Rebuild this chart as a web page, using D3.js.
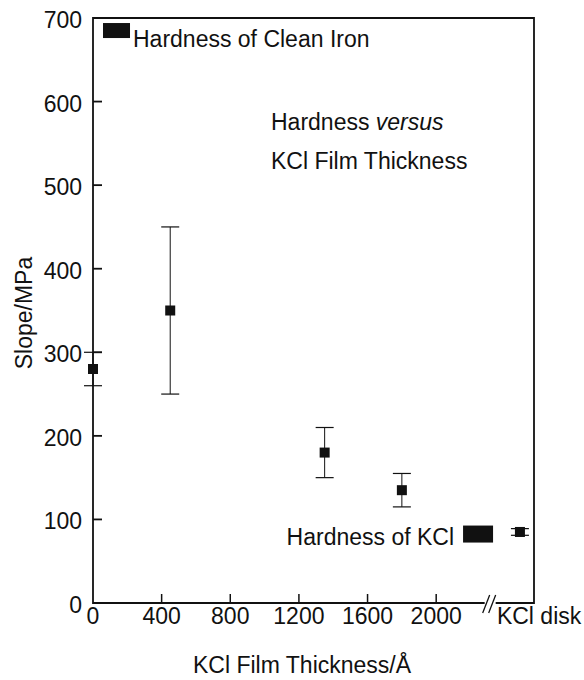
<!DOCTYPE html>
<html>
<head>
<meta charset="utf-8">
<script src="https://cdn.jsdelivr.net/npm/d3@7"></script>
<style>
  html, body { margin: 0; padding: 0; background: #fff; }
  svg text { font-family: "Liberation Sans", Arial, Helvetica, sans-serif; fill: #111; }
</style>
</head>
<body>
<svg id="chart" width="584" height="680"></svg>
<script>
// Film measurements: KCl film thickness (Å) and slope (MPa) with error range
const thickness = [0, 450, 1350, 1800];
const slope     = [280, 350, 180, 135];
const slopeLow  = [260, 250, 150, 115];
const slopeHigh = [300, 450, 210, 155];

// Bulk KCl disk measurement (plotted past the axis break)
const diskSlope = 85, diskLow = 81, diskHigh = 89;
const diskPos = 2488;

// Reference hardness levels (MPa) and their marker positions on the thickness axis
const ironHardness = 685, ironPos = 137;
const kclHardness = 82.5, kclPos = 2244;

const xTicks = [0, 400, 800, 1200, 1600, 2000];
const yTicks = [0, 100, 200, 300, 400, 500, 600, 700];

const plotLeft = 93, plotRight = 534, plotTop = 18, plotBottom = 603;
const x = d3.scaleLinear().domain([0, 2570]).range([plotLeft, plotRight]);
const y = d3.scaleLinear().domain([0, 700]).range([plotBottom, plotTop]);

const svg = d3.select("#chart");
const ink = "#111";
const fs = 23;

// Frame: left, top, right, and a bottom line broken by the // marks
const breakX = x(2300);
svg.append("path")
  .attr("d", `M${breakX - 3},${plotBottom} H${plotLeft} V${plotTop} H${plotRight} V${plotBottom} H${breakX + 8}`)
  .attr("fill", "none").attr("stroke", ink).attr("stroke-width", 1.8);
[-1, 5].forEach(dx => {
  svg.append("line")
    .attr("x1", breakX + dx - 4).attr("y1", plotBottom + 10)
    .attr("x2", breakX + dx + 3).attr("y2", plotBottom - 8)
    .attr("stroke", ink).attr("stroke-width", 1.3);
});

// Inward ticks
const tickLen = 9;
svg.append("g").selectAll("line").data(yTicks.filter(d => d > 0 && d < 700)).join("line")
  .attr("x1", plotLeft).attr("x2", plotLeft + tickLen)
  .attr("y1", d => y(d)).attr("y2", d => y(d))
  .attr("stroke", ink).attr("stroke-width", 1.8);
svg.append("g").selectAll("line").data(xTicks.filter(d => d > 0)).join("line")
  .attr("x1", d => x(d)).attr("x2", d => x(d))
  .attr("y1", plotBottom).attr("y2", plotBottom - tickLen)
  .attr("stroke", ink).attr("stroke-width", 1.5);

// Tick labels
svg.append("g").selectAll("text").data(yTicks).join("text")
  .attr("x", plotLeft - 11).attr("y", d => y(d) + 10)
  .attr("text-anchor", "end").attr("font-size", fs)
  .text(d => d);
svg.append("g").selectAll("text").data(xTicks).join("text")
  .attr("x", d => x(d)).attr("y", 624)
  .attr("text-anchor", "middle").attr("font-size", fs)
  .text(d => d);
svg.append("text").attr("x", x(diskPos) - 23).attr("y", 624)
  .attr("font-size", fs).text("KCl disk");

// Axis titles
svg.append("text").attr("x", 302).attr("y", 673)
  .attr("text-anchor", "middle").attr("font-size", fs).text("KCl Film Thickness/Å");
svg.append("text").attr("transform", `translate(32,313) rotate(-90)`)
  .attr("text-anchor", "middle").attr("font-size", fs).text("Slope/MPa");

// Chart title inside the frame
const t1 = svg.append("text").attr("x", 271).attr("y", 130).attr("font-size", fs);
t1.append("tspan").text("Hardness ");
t1.append("tspan").attr("font-style", "italic").text("versus");
svg.append("text").attr("x", 271).attr("y", 169).attr("font-size", fs).text("KCl Film Thickness");

// Error bars and square markers
const capHalf = 9, sq = 10;
const pts = thickness.map((t, i) => ({ x: t, v: slope[i], lo: slopeLow[i], hi: slopeHigh[i] }));
pts.push({ x: diskPos, v: diskSlope, lo: diskLow, hi: diskHigh });

const g = svg.append("g");
g.selectAll(".stem").data(pts).join("line")
  .attr("x1", d => x(d.x)).attr("x2", d => x(d.x))
  .attr("y1", d => y(d.lo)).attr("y2", d => y(d.hi))
  .attr("stroke", ink).attr("stroke-width", 1);
g.selectAll(".capLo").data(pts).join("line")
  .attr("x1", d => x(d.x) - capHalf).attr("x2", d => x(d.x) + capHalf)
  .attr("y1", d => y(d.lo)).attr("y2", d => y(d.lo))
  .attr("stroke", ink).attr("stroke-width", 1.2);
g.selectAll(".capHi").data(pts).join("line")
  .attr("x1", d => x(d.x) - capHalf).attr("x2", d => x(d.x) + capHalf)
  .attr("y1", d => y(d.hi)).attr("y2", d => y(d.hi))
  .attr("stroke", ink).attr("stroke-width", 1.2);
g.selectAll("rect").data(pts).join("rect")
  .attr("x", d => x(d.x) - sq / 2).attr("y", d => y(d.v) - sq / 2)
  .attr("width", sq).attr("height", sq).attr("fill", ink);

// Reference hardness bars with labels
svg.append("rect")
  .attr("x", x(ironPos) - 13.5).attr("y", y(ironHardness) - 7.5)
  .attr("width", 27).attr("height", 15).attr("fill", ink);
svg.append("text").attr("x", 133).attr("y", 47)
  .attr("font-size", fs).text("Hardness of Clean Iron");

svg.append("rect")
  .attr("x", x(kclPos) - 15).attr("y", y(kclHardness) - 8.5)
  .attr("width", 30).attr("height", 17).attr("fill", ink);
svg.append("text").attr("x", x(kclPos) - 24).attr("y", 545)
  .attr("text-anchor", "end").attr("font-size", fs).text("Hardness of KCl");
</script>
</body>
</html>
